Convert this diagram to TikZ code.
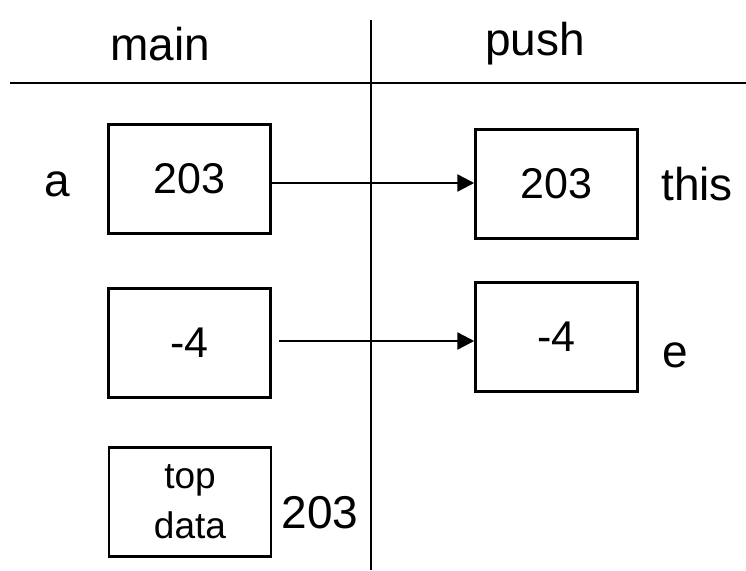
\documentclass[tikz,border=0pt]{standalone}
\usepackage{fontspec}
\setmainfont{Liberation Sans}
\usetikzlibrary{arrows.meta}

\tikzset{
  cell/.style={draw,line width=2.5pt,minimum width=162pt,minimum height=109pt,
    inner sep=0pt,font=\fontsize{43}{46}\selectfont},
  tag/.style={anchor=base,inner sep=0pt,font=\fontsize{46}{50}\selectfont},
  ptr/.style={-{Triangle[length=17pt,width=17pt]},line width=2.5pt}
}

\begin{document}
\begin{tikzpicture}[x=1pt,y=-1pt]
  \useasboundingbox (0,0) rectangle (746,570);

  \path
  (160,60)   node[tag](main)  {main}
  (535,55)   node[tag](push)  {push}

  (189.5,179) node[cell](m203) {203}
  (189.5,343) node[cell](m4)   {-4}
  (190,502)   node[cell,align=center,font=\fontsize{37}{50}\selectfont](mtop) {top\\data}

  (556.5,184) node[cell](p203) {203}
  (556.5,337) node[cell](p4)   {-4}

  (57,196)   node[tag](a)     {a}
  (697,200)  node[tag](this)  {this}
  (675,367)  node[tag](e)     {e}
  (320,528)  node[tag](val)   {203}
  ;

  % frame divider
  \coordinate (htop) at (371,20);
  \coordinate (hbot) at (371,570);
  \coordinate (wl) at (10,83);
  \coordinate (wr) at (746,83);
  \draw[line width=2.5pt] (wl) -- (wr);
  \draw[line width=2.5pt] (htop) -- (hbot);

  \draw[ptr] ([yshift=-4pt]m203.east) -- ([yshift=-4pt]m203.east -| p203.west);
  \draw[ptr,shorten <=7pt] ([yshift=2pt]m4.east) -- ([yshift=2pt]m4.east -| p4.west);

\end{tikzpicture}
\end{document}
